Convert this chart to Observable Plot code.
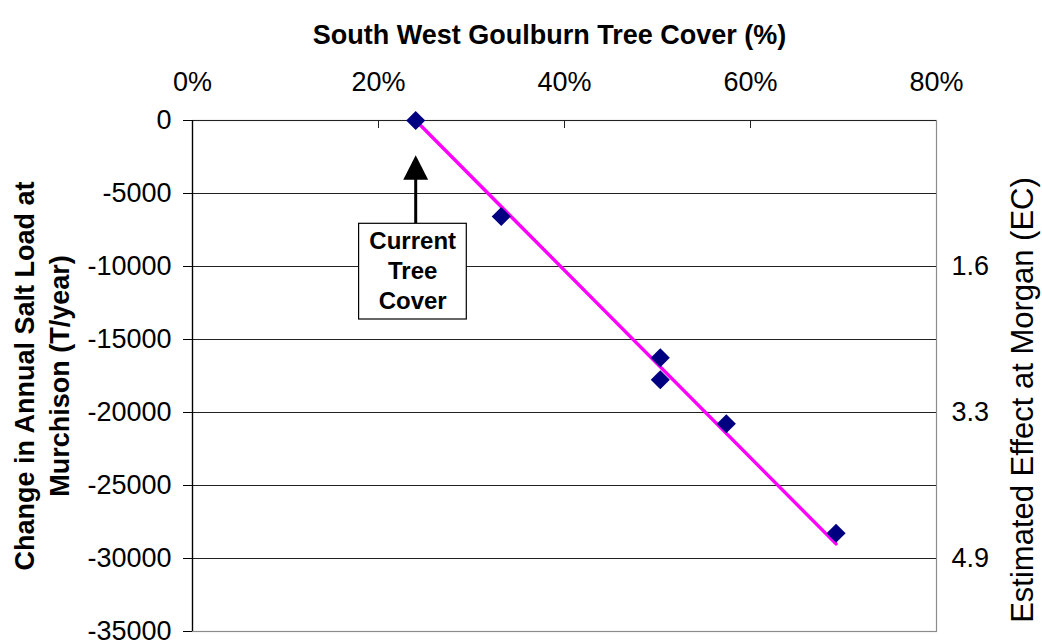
<!DOCTYPE html>
<html>
<head>
<meta charset="utf-8">
<script src="https://cdn.jsdelivr.net/npm/d3@7"></script>
<script src="https://cdn.jsdelivr.net/npm/@observablehq/plot@0.6"></script>
<style>
  html, body { margin: 0; padding: 0; background: #ffffff; }
  #chart { width: 1042px; height: 644px; }
</style>
</head>
<body>
<div id="chart"></div>
<script>
// ---- data ----
const treeCover = [24, 33.2, 50.3, 50.3, 57.4, 69.2];            // % tree cover
const saltLoad  = [0, -6580, -16250, -17760, -20770, -28270];    // T/year change
const trendCover = [24, 69.2];                                   // trend line ends
const trendLoad  = [0, -29000];
const xTicks = [0, 20, 40, 60, 80];
const yTicks = [0, -5000, -10000, -15000, -20000, -25000, -30000, -35000];
const ecTicks  = [-10000, -20000, -30000];
const ecLabels = ["1.6", "3.3", "4.9"];
const currentCover = 24;
const annotationText = "Current\nTree\nCover";
const titleText = "South West Goulburn Tree Cover (%)";
const yLabelText = "Change in Annual Salt Load at\nMurchison (T/year)";
const rightLabelText = "Estimated Effect at Morgan (EC)";

const points = treeCover.map((c, i) => ({cover: c, load: saltLoad[i]}));
const trend = trendCover.map((c, i) => ({cover: c, load: trendLoad[i]}));
const ecMap = new Map(ecTicks.map((t, i) => [t, ecLabels[i]]));

const arrowHead = {
  draw(context, size) {
    const r = Math.sqrt(size / Math.PI);
    context.moveTo(0, -r);
    context.lineTo(r * 1.02, r);
    context.lineTo(-r * 1.02, r);
    context.closePath();
  }
};

const font = "'Liberation Sans', Arial, Helvetica, sans-serif";

const chart = Plot.plot({
  width: 1042,
  height: 644,
  marginTop: 120,
  marginBottom: 13,
  marginLeft: 192,
  marginRight: 106,
  style: {fontFamily: font, fontSize: "27px", background: "#ffffff", color: "#000"},
  x: {domain: [0, 80]},
  y: {domain: [-35000, 0]},
  marks: [
    Plot.frame({stroke: "#8c8c8c", strokeWidth: 1.2}),
    Plot.ruleY(yTicks.filter(d => d > -35000), {stroke: "#222", strokeWidth: 1}),
    Plot.ruleX(xTicks.filter(d => d > 0 && d < 80), {insetBottom: 503, stroke: "#222", strokeWidth: 1}),
    Plot.ruleX([0], {stroke: "#000", strokeWidth: 1.3}),
    Plot.axisY({
      anchor: "left", ticks: yTicks, tickSize: 9, tickPadding: 12,
      tickFormat: d => String(d), label: null, fontSize: 27, stroke: "#000"
    }),
    Plot.axisX({
      anchor: "top", ticks: xTicks, tickSize: 0, tickPadding: 30,
      tickFormat: d => d + "%", label: null, fontSize: 27
    }),
    Plot.axisY({
      anchor: "right", ticks: ecTicks, tickSize: 0, tickPadding: 15,
      tickFormat: d => ecMap.get(d), label: null, fontSize: 27
    }),
    Plot.text([titleText], {
      frameAnchor: "top", textAnchor: "middle", dx: -15, dy: -96, fontWeight: "bold", fontSize: 27
    }),
    Plot.text([yLabelText], {
      frameAnchor: "left", textAnchor: "middle", lineAnchor: "middle", rotate: -90, dx: -152.5, dy: 0,
      fontWeight: "bold", fontSize: 27, lineHeight: 1.3
    }),
    Plot.text([rightLabelText], {
      frameAnchor: "right", textAnchor: "middle", lineAnchor: "middle", rotate: -90, dx: 87, dy: 24, fontSize: 31
    }),
    Plot.line(trend, {x: "cover", y: "load", stroke: "#ff00ff", strokeWidth: 3.4}),
    Plot.dot(points, {x: "cover", y: "load", symbol: "diamond2", r: 8.6, fill: "#000080", stroke: "none"}),
    // annotation: arrow pointing to current tree cover
    Plot.ruleX([currentCover], {insetTop: 58, insetBottom: 408, stroke: "#000", strokeWidth: 3}),
    Plot.dot([currentCover], {x: d => d, y: () => 0, dy: 47, symbol: arrowHead, r: 12.2, fill: "#000", stroke: "none"}),
    Plot.rect([currentCover], {
      x1: d => d, x2: d => d, y1: () => 0, y2: () => 0,
      insetLeft: -56.6, insetRight: -51.1, insetTop: 103.3, insetBottom: -199,
      fill: "#fff", stroke: "#000", strokeWidth: 1.2
    }),
    Plot.text([annotationText], {
      x: () => currentCover, y: () => 0, dx: -3, dy: 149,
      fontWeight: "bold", fontSize: 24, lineHeight: 1.25, fill: "#000"
    })
  ]
});

document.getElementById("chart").appendChild(chart);
</script>
</body>
</html>
